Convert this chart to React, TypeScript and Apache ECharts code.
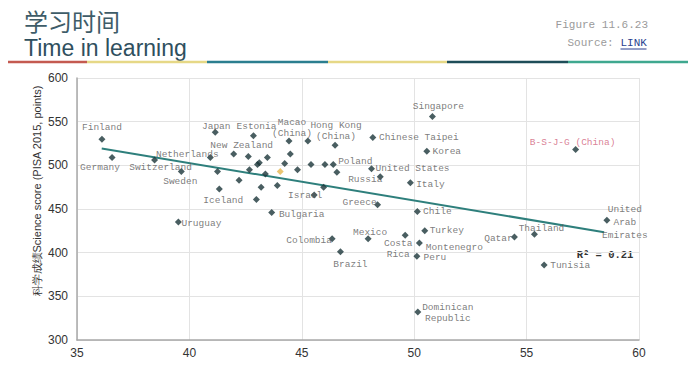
import React, { useEffect, useRef } from "react";
import * as echarts from "echarts";

// Hours of learning time (x) vs PISA 2015 science score (y)
const COUNTRIES = [
  "Finland", "Germany", "Switzerland", "Sweden", "Uruguay", "Netherlands", "Japan", "",
  "Iceland", "New Zealand", "", "", "", "Estonia", "", "", "", "", "", "", "Bulgaria", "",
  "", "Macao (China)", "", "", "", "Hong Kong (China)", "", "", "Poland", "", "Israel", "",
  "Chinese Taipei", "United States", "Russia", "Greece", "Singapore", "Korea", "Italy",
  "Chile", "Turkey", "Montenegro", "Peru", "Costa Rica", "Dominican Republic", "Mexico",
  "Colombia", "Brazil", "Qatar", "Thailand", "Tunisia", "United Arab Emirates", "B-S-J-G (China)",
];
const HOURS = [
  36.11, 36.56, 38.45, 39.64, 39.51, 40.93, 41.15, 41.25,
  41.33, 41.97, 42.21, 42.62, 42.67, 42.85, 43.03, 43.11, 43.38, 43.19, 42.98, 43.47, 43.66, 43.91,
  44.24, 44.43, 44.49, 44.81, 45.27, 46.48, 45.41, 46.03, 46.4, 46.56, 45.55, 45.97,
  48.16, 48.1, 48.49, 48.37, 50.81, 50.56, 49.83,
  50.14, 50.47, 50.23, 50.12, 49.6, 50.16, 47.95,
  46.35, 46.72, 54.46, 55.35, 55.78, 58.57, 57.18,
];
const SCORES = [
  530, 509, 506, 493, 435, 509, 538, 493,
  473, 513, 483, 510, 495, 534, 501, 503, 490, 475, 461, 509, 446, 477,
  502, 528, 513, 495, 528, 523, 501, 501, 501, 492, 466, 475,
  532, 496, 487, 455, 556, 516, 480,
  447, 425, 411, 396, 420, 332, 416,
  416, 401, 418, 421, 386, 437, 518,
];
const AVERAGE_POINT = [44.04, 493];
const TREND_X = [36.1, 58.45];
const TREND_Y = [519.3, 423.5];
const X_TICKS = { min: 35, max: 60, interval: 5 };
const Y_TICKS = { min: 300, max: 600, interval: 50 };

// label styling (display text + offset of label centre from its marker)
const LABEL_TEXT: Record<string, string> = {
  "Macao (China)": "Macao\n(China)",
  "Hong Kong (China)": "Hong Kong\n(China)",
  "Costa Rica": "Costa\nRica",
  "Dominican Republic": "Dominican\nRepublic",
  "United Arab Emirates": "United\nArab\nEmirates",
};
const LABEL_OFFSET: Record<string, [number, number]> = {
  Finland: [0, -12], Germany: [-12, 10], Switzerland: [6, 7], Netherlands: [-23, -3],
  Sweden: [-1, 10], Uruguay: [23, 1], Japan: [1, -6], Estonia: [3, -9],
  "Macao (China)": [3, -13], "Hong Kong (China)": [1, -14], "New Zealand": [8, -8],
  Iceland: [4, 12], Israel: [-9, 0], Bulgaria: [30, 2], Poland: [22, -3], Russia: [-15, 3],
  "United States": [41, 0], "Chinese Taipei": [46, 0], Singapore: [6, -10], Korea: [20, 0],
  Italy: [20, 2], Greece: [-18, -2], Chile: [20, 0], Mexico: [2, -6], Colombia: [-23, 2],
  Brazil: [10, 13], "Costa Rica": [-7, 14], Turkey: [22, 0], Montenegro: [35, 4], Peru: [18, 1],
  "Dominican Republic": [30, 1], Qatar: [-16, 2], Thailand: [7, -6], Tunisia: [26, 1],
  "United Arab Emirates": [18, 2], "B-S-J-G (China)": [-3, -7],
};

const LABEL_FONT = "'Liberation Mono', 'DejaVu Sans Mono', monospace";

export default function App() {
  const ref = useRef<HTMLDivElement>(null);
  useEffect(() => {
    if (!ref.current) return;
    const chart = echarts.init(ref.current, undefined, { renderer: "svg" });
    const points = COUNTRIES.map((name, i) => {
      const labelled = name !== "";
      const special = name === "B-S-J-G (China)";
      return {
        name,
        value: [HOURS[i], SCORES[i]],
        label: labelled
          ? {
              show: true,
              position: "inside",
              align: "center",
              verticalAlign: "middle",
              offset: LABEL_OFFSET[name] || [0, -10],
              formatter: LABEL_TEXT[name] || name,
              color: special ? "#d0607a" : "#5a5a5a",
              fontFamily: LABEL_FONT,
              fontSize: 9.5,
              lineHeight: name === "United Arab Emirates" ? 13 : 11,
            }
          : { show: false },
      };
    });
    const segs: [number, number, string][] = [
      [5, 87, "#c45a50"], [87, 207, "#e6d886"], [207, 328, "#2b7e8f"],
      [328, 447, "#e6d886"], [447, 568, "#1e4d58"], [568, 688, "#3fa88f"],
    ];
    chart.setOption({
      animation: false,
      backgroundColor: "#ffffff",
      grid: { left: 77, right: 61, top: 78, bottom: 25, containLabel: false },
      xAxis: {
        type: "value",
        min: X_TICKS.min,
        max: X_TICKS.max,
        interval: X_TICKS.interval,
        axisLine: { show: true, onZero: false, lineStyle: { color: "#a8a8a8", width: 1.5 } },
        axisTick: { show: false },
        axisLabel: { color: "#333", fontSize: 12, margin: 7, fontFamily: "'Liberation Sans', Arial, sans-serif" },
        splitLine: { show: true, lineStyle: { color: "#e3e3e3", width: 1 } },
      },
      yAxis: {
        type: "value",
        min: Y_TICKS.min,
        max: Y_TICKS.max,
        interval: Y_TICKS.interval,
        axisLine: { show: true, onZero: false, lineStyle: { color: "#a8a8a8", width: 1.5 } },
        axisTick: { show: false },
        axisLabel: { color: "#333", fontSize: 12, margin: 9, fontFamily: "'Liberation Sans', Arial, sans-serif" },
        splitLine: { show: true, lineStyle: { color: "#e3e3e3", width: 1 } },
      },
      series: [
        {
          type: "line",
          data: TREND_X.map((x, i) => [x, TREND_Y[i]]),
          symbol: "none",
          lineStyle: { color: "#2e7f7c", width: 2 },
          z: 1,
        },
        {
          type: "scatter",
          symbol: "diamond",
          symbolSize: 7,
          itemStyle: { color: "#1b363a" },
          data: points,
          z: 3,
        },
        {
          type: "scatter",
          symbol: "diamond",
          symbolSize: 7,
          itemStyle: { color: "#e5b74f" },
          data: [AVERAGE_POINT],
          z: 3,
        },
      ],
      graphic: [
        {
          type: "text",
          left: 24,
          top: 8,
          style: {
            text: "学习时间",
            fill: "#3e5c68",
            font: "24px 'Noto Sans CJK SC', sans-serif",
            lineHeight: 24,
          },
        },
        {
          type: "text",
          left: 24,
          top: 35,
          style: {
            text: "Time in learning",
            fill: "#2f4f5e",
            font: "23px 'Liberation Sans', Arial, sans-serif",
            lineHeight: 25,
          },
        },
        ...segs.map(([a, b, c]) => ({
          type: "line",
          shape: { x1: a, y1: 62, x2: b, y2: 62 },
          style: { stroke: c, lineWidth: 2.5 },
        })),
        {
          type: "text",
          right: 52,
          top: 19,
          style: {
            text: "Figure 11.6.23",
            fill: "#9a9a9a",
            font: "11px 'Liberation Mono', monospace",
          },
        },
        {
          type: "group",
          right: 51,
          top: 37,
          children: [
            {
              type: "text",
              x: 0,
              y: 0,
              style: { text: "Source: ", fill: "#9a9a9a", font: "11px 'Liberation Mono', monospace" },
            },
            {
              type: "text",
              x: 53,
              y: 0,
              style: { text: "LINK", fill: "#2b3f8f", font: "11px 'Liberation Mono', monospace" },
            },
            {
              type: "line",
              shape: { x1: 53, y1: 12, x2: 79, y2: 12 },
              style: { stroke: "#2b3f8f", lineWidth: 1 },
            },
          ],
        },
        {
          type: "text",
          x: 37,
          y: 191,
          rotation: Math.PI / 2,
          style: {
            text: "科学成绩Science score (PISA 2015, points)",
            fill: "#333",
            font: "11px 'Liberation Sans', Arial, sans-serif",
            align: "center",
            verticalAlign: "middle",
          },
        },
        {
          type: "text",
          x: 605,
          y: 255,
          style: {
            text: "R² = 0.21",
            fill: "#333",
            font: "bold 10.5px 'Liberation Mono', monospace",
            align: "center",
            verticalAlign: "middle",
          },
        },
      ],
    });
    return () => chart.dispose();
  }, []);
  return <div ref={ref} style={{ width: 700, height: 365, margin: -8 }} />;
}
